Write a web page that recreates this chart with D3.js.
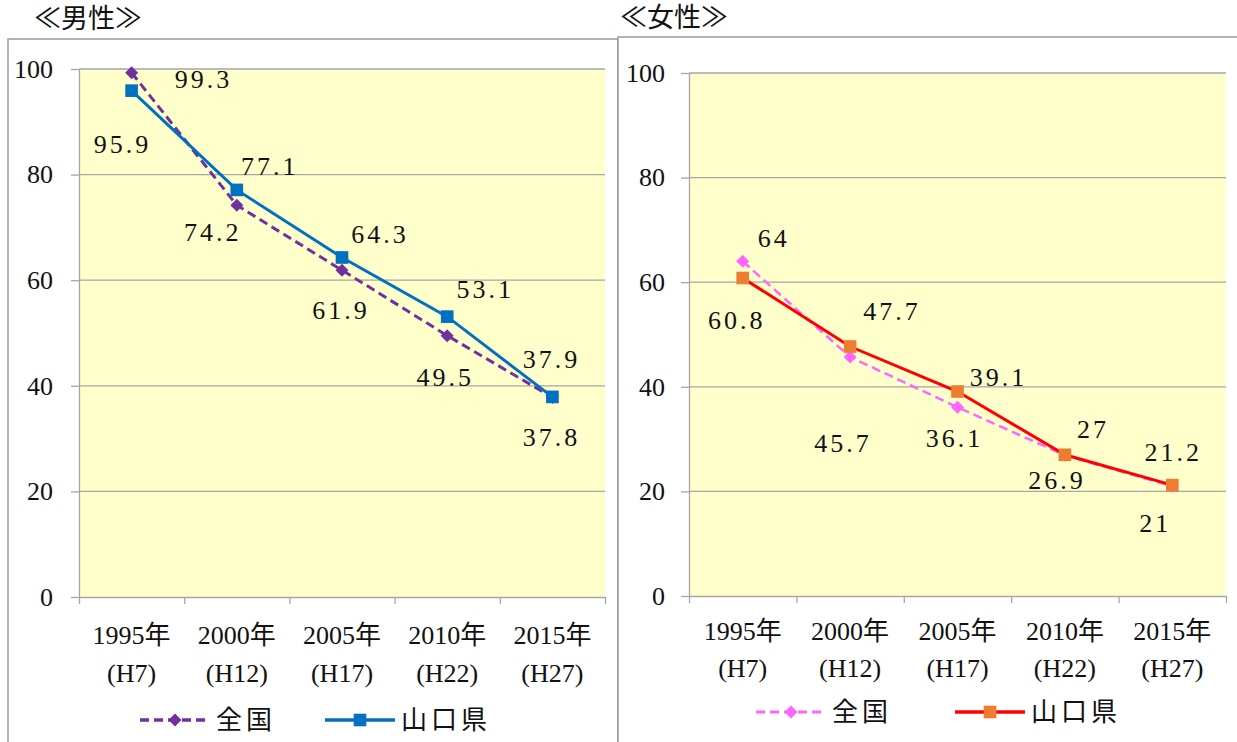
<!DOCTYPE html>
<meta charset="utf-8">
<script src="https://d3js.org/d3.v7.min.js"></script>
<title>男性・女性</title>
<style>
body { margin: 0; background: #fff; }
.grid line { stroke: #a6a6a6; stroke-width: 1.3; }
.axis path, .axis line { stroke: #a6a6a6; stroke-width: 1.3; }
</style>
<body>
<div id="vis"></div>
<script>

var categories = ["1995年", "2000年", "2005年", "2010年", "2015年"];
var eras = ["(H7)", "(H12)", "(H17)", "(H22)", "(H27)"];
var yTicks = [0, 20, 40, 60, 80, 100];
var seriesNames = ["全国", "山口県"];

var maleNational = [99.3, 74.2, 61.9, 49.5, 37.8];
var maleYamaguchi = [95.9, 77.1, 64.3, 53.1, 37.9];
var femaleNational = [64, 45.7, 36.1, 26.9, 21];
var femaleYamaguchi = [60.8, 47.7, 39.1, 27, 21.2];

// label offsets (like Excel's manually dragged labels)
var maleNatOff = [[72, 7], [-24, 27], [-1, 40], [-2, 42], [-1, 40]];
var maleYamOff = [[-9, 54], [33, -23], [38, -23], [38, -27], [-1, -37]];
var femNatOff = [[31, -23], [-7, 87], [-3, 31], [-8, 25], [-17, 37]];
var femYamOff = [[-6, 42], [42, -35], [41, -14], [28, -25], [1, -33]];

var SERIF = '"Liberation Serif", "Noto Sans CJK JP", serif';

function font(sel, size, spacing) {
  sel.style("font-family", SERIF).style("font-size", size + "px")
    .style("fill", "#111").style("letter-spacing", (spacing || 0) + "px");
}

var svg = d3.select("#vis").append("svg")
  .attr("width", 1237)
  .attr("height", 742);

// outer frames
svg.append("rect").attr("x", 8).attr("y", 39).attr("width", 610).attr("height", 720)
  .attr("fill", "#fff").attr("stroke", "#9a9a9a").attr("stroke-width", 1.5);
svg.append("rect").attr("x", 618).attr("y", 37).attr("width", 640).attr("height", 720)
  .attr("fill", "#fff").attr("stroke", "#9a9a9a").attr("stroke-width", 1.5);

svg.append("text").attr("x", 34).attr("y", 28).text("≪男性≫").call(font, 27, 0);
svg.append("text").attr("x", 620).attr("y", 27).text("≪女性≫").call(font, 27, 0);

function diamond(s) {
  return "M0," + (-s) + "L" + s + ",0L0," + s + "L" + (-s) + ",0Z";
}

var panels = [
  {x0: 79, x1: 605, y0: 69, y1: 597, pad: 18, catDy: [38, 76], legY: 720, legX: [140, 325],
   series: [
     {values: maleNational, off: maleNatOff, line: "#7030a0", marker: "#7030a0", dash: "9,5", shape: "diamond", w: 3},
     {values: maleYamaguchi, off: maleYamOff, line: "#0070c0", marker: "#0070c0", dash: null, shape: "square", w: 3}
   ]},
  {x0: 689, x1: 1226, y0: 73, y1: 596, pad: 16, catDy: [35, 72], legY: 712, legX: [756, 955],
   series: [
     {values: femaleNational, off: femNatOff, line: "#ff66ff", marker: "#ff66ff", dash: "9,5", shape: "diamond", w: 2.5},
     {values: femaleYamaguchi, off: femYamOff, line: "#ff0000", marker: "#ed7d31", dash: null, shape: "square", w: 3}
   ]}
];

function markerPath(shape) {
  return shape === "square" ? d3.symbol().type(d3.symbolSquare).size(160)() : diamond(6.5);
}

panels.forEach(function(p) {
  var x = d3.scaleBand().domain(categories).range([p.x0, p.x1]);
  var xi = d3.scaleLinear().domain([0, categories.length]).range([p.x0, p.x1]);
  var y = d3.scaleLinear().domain([0, 100]).range([p.y1, p.y0]);
  var g = svg.append("g");

  g.append("rect").attr("x", p.x0).attr("y", p.y0)
    .attr("width", p.x1 - p.x0).attr("height", p.y1 - p.y0)
    .attr("fill", "#ffffcc");

  g.append("g").attr("class", "grid")
    .selectAll("line").data(yTicks.slice(1)).enter().append("line")
    .attr("x1", p.x0).attr("x2", p.x1)
    .attr("y1", function(d) { return y(d); }).attr("y2", function(d) { return y(d); });

  var ya = g.append("g").attr("class", "axis")
    .attr("transform", "translate(" + p.x0 + ",0)")
    .call(d3.axisLeft(y).tickValues(yTicks).tickSize(8).tickPadding(p.pad).tickSizeOuter(0));
  ya.selectAll("text").call(font, 26, 0);

  g.append("g").attr("class", "axis")
    .attr("transform", "translate(0," + p.y1 + ")")
    .call(d3.axisBottom(xi).ticks(5).tickSize(7).tickFormat("").tickSizeOuter(0));

  g.selectAll(".cat1").data(categories).enter().append("text")
    .attr("text-anchor", "middle").attr("dominant-baseline", "central")
    .attr("x", function(d) { return x(d) + x.bandwidth() / 2; })
    .attr("y", p.y1 + p.catDy[0])
    .text(function(d) { return d; })
    .call(font, 26, 0);
  g.selectAll(".cat2").data(eras).enter().append("text")
    .attr("text-anchor", "middle").attr("dominant-baseline", "central")
    .attr("x", function(d, i) { return x(categories[i]) + x.bandwidth() / 2; })
    .attr("y", p.y1 + p.catDy[1])
    .text(function(d) { return d; })
    .call(font, 26, 0);

  var cx = function(d, i) { return x(categories[i]) + x.bandwidth() / 2; };
  var line = d3.line().x(cx).y(function(d) { return y(d); });

  p.series.forEach(function(s) {
    g.append("path").datum(s.values)
      .attr("d", line).attr("fill", "none")
      .attr("stroke", s.line).attr("stroke-width", s.w)
      .attr("stroke-dasharray", s.dash);
  });
  p.series.forEach(function(s) {
    g.selectAll(null).data(s.values).enter().append("path")
      .attr("d", markerPath(s.shape))
      .attr("transform", function(d, i) { return "translate(" + cx(d, i) + "," + y(d) + ")"; })
      .attr("fill", s.marker);
    g.selectAll(null).data(s.values).enter().append("text")
      .attr("text-anchor", "middle").attr("dominant-baseline", "central")
      .attr("x", function(d, i) { return cx(d, i) + s.off[i][0]; })
      .attr("y", function(d, i) { return y(d) + s.off[i][1]; })
      .text(function(d) { return d; })
      .call(font, 26, 3);
  });

  // legend
  p.series.forEach(function(s, k) {
    var lx = p.legX[k];
    g.append("line").attr("x1", lx).attr("x2", lx + 70)
      .attr("y1", p.legY).attr("y2", p.legY)
      .attr("stroke", s.line).attr("stroke-width", s.w + 0.5)
      .attr("stroke-dasharray", s.dash);
    g.append("path")
      .attr("d", markerPath(s.shape))
      .attr("transform", "translate(" + (lx + 35) + "," + p.legY + ")")
      .attr("fill", s.marker);
    g.append("text").attr("dominant-baseline", "central")
      .attr("x", lx + 76).attr("y", p.legY)
      .text(seriesNames[k])
      .call(font, 26, 4);
  });
});

</script>
</body>
